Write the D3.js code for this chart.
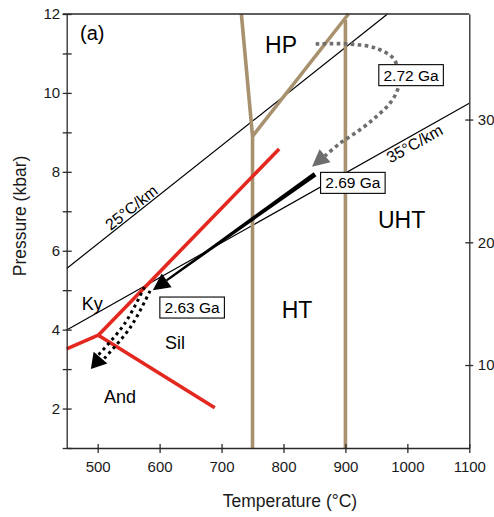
<!DOCTYPE html>
<html>
<head>
<meta charset="utf-8">
<script src="https://cdn.jsdelivr.net/npm/d3@7"></script>
<style>
  html, body { margin: 0; padding: 0; background: #fff; }
  svg { display: block; font-family: "Liberation Sans", Arial, Helvetica, sans-serif; }
</style>
</head>
<body>
<script>
// ---------------- data ----------------
const tempDomain = [450, 1100];
const pressureDomain = [1, 12];
const depthDomain = [3.24, 38.6];          // km at the bottom / top of the pressure axis
const tempTicks = [500, 600, 700, 800, 900, 1000, 1100];
const pressureTicks = [1, 2, 3, 4, 5, 6, 7, 8, 9, 10, 11, 12];
const pressureLabels = [2, 4, 6, 8, 10, 12];
const depthTicks = [10, 20, 30];

// facies boundaries (T °C, P kbar)
const faciesLines = [
  [[732, 12], [750, 8.9], [750, 1]],
  [[750, 8.9], [905, 12]],
  [[900, 11.85], [900, 1]]
];
// Al2SiO5 phase boundaries
const alsLines = [
  [[450, 3.51], [501, 3.86]],
  [[501, 3.86], [793, 8.58]],
  [[501, 3.86], [689, 2.02]]
];
// geotherms
const geothermLabels = ["25°C/km", "35°C/km"];
const geothermLines = [
  [[450, 5.55], [968, 12]],
  [[450, 3.99], [1100, 9.74]]
];
const geothermLabelT = [562, 1005];

// P-T paths
const path272 = [[852, 11.24], [907, 11.24], [950, 11.13], [977, 10.88], [985, 10.58],
                 [985, 10.12], [972, 9.74], [950, 9.40], [923, 9.06], [891, 8.72], [846, 8.13]];
const path269 = [[851, 7.94], [589, 5.0]];
const path263 = [[580, 5.03], [548, 4.10], [489, 3.00]];

// age boxes
const ageLabels = ["2.72 Ga", "2.69 Ga", "2.63 Ga"];
const ageT = [1006, 912, 652.5];
const ageP = [10.45, 7.72, 4.56];

// field labels
const fieldLabels = ["(a)", "HP", "UHT", "HT", "Ky", "Sil", "And"];
const fieldT = [471.6, 770.3, 952.6, 797.1, 474.2, 608.7, 510.2];
const fieldP = [11.33, 11.01, 6.58, 4.29, 4.50, 3.50, 2.15];
const fieldSize = [20, 23, 23, 23, 18, 18, 18];

// ---------------- chart ----------------
const W = 494, H = 517;
const svg = d3.select("body").append("svg").attr("width", W).attr("height", H);

const x = d3.scaleLinear().domain(tempDomain).range([66.7, 469.3]);
const y = d3.scaleLinear().domain(pressureDomain).range([448, 14]);
const yd = d3.scaleLinear().domain(depthDomain).range([448, 14]);

const BROWN = "#a8916f", RED = "#e3281f", GRAY = "#6e6e6e", AX = "#2a2a2a";
const line = d3.line().x(d => x(d[0])).y(d => y(d[1]));

// geotherms
const gGeo = svg.append("g");
geothermLines.forEach((pts, i) => {
  gGeo.append("path").attr("d", line(pts)).attr("fill", "none")
    .attr("stroke", "#000").attr("stroke-width", 1.2);
  const a = pts[0], b = pts[1];
  const ang = Math.atan2(y(b[1]) - y(a[1]), x(b[0]) - x(a[0])) * 180 / Math.PI;
  const T = geothermLabelT[i];
  const P = a[1] + (b[1] - a[1]) * (T - a[0]) / (b[0] - a[0]);
  gGeo.append("text")
    .attr("transform", `translate(${x(T)},${y(P)}) rotate(${ang})`)
    .attr("text-anchor", "middle")
    .attr("y", i === 0 ? -2 : 14)
    .attr("font-size", 16).attr("fill", "#000")
    .text(geothermLabels[i]);
});

// facies (brown)
svg.append("g").selectAll("path").data(faciesLines).join("path")
  .attr("d", line).attr("fill", "none").attr("stroke", BROWN)
  .attr("stroke-width", 3.6).attr("stroke-linejoin", "miter");

// Al2SiO5 (red)
svg.append("g").selectAll("path").data(alsLines).join("path")
  .attr("d", line).attr("fill", "none").attr("stroke", RED)
  .attr("stroke-width", 3.6).attr("stroke-linecap", "butt");

// helpers
function px(d) { return [x(d[0]), y(d[1])]; }
function head(g, tip, prev, L, hw, color) {
  const dx = tip[0] - prev[0], dy = tip[1] - prev[1];
  const len = Math.hypot(dx, dy), ux = dx / len, uy = dy / len;
  const nx = -uy, ny = ux;
  const base = [tip[0] - L * ux, tip[1] - L * uy];
  g.append("path")
    .attr("d", `M${tip[0]},${tip[1]}L${base[0] + nx * hw},${base[1] + ny * hw}L${base[0] - nx * hw},${base[1] - ny * hw}Z`)
    .attr("fill", color);
  return base;
}
const pline = d3.line().curve(d3.curveCatmullRom.alpha(0.5));

// gray dotted arrow (2.72 Ga)
{
  const g = svg.append("g");
  const pts = path272.map(px);
  const tip = pts[pts.length - 1], prev = pts[pts.length - 2];
  const base = head(g, tip, prev, 17, 8.5, GRAY);
  const p = pts.slice(0, -1).concat([base]);
  g.insert("path", ":first-child").attr("d", pline(p)).attr("fill", "none")
    .attr("stroke", GRAY).attr("stroke-width", 3.6).attr("stroke-dasharray", "3.6,3.4");
}

// black solid tapered arrow (2.69 Ga)
{
  const g = svg.append("g");
  const p0 = px(path269[0]), tip = px(path269[1]);
  const base = head(g, tip, p0, 17, 8.5, "#000");
  const dx = tip[0] - p0[0], dy = tip[1] - p0[1];
  const len = Math.hypot(dx, dy), nx = -dy / len, ny = dx / len;
  const w0 = 2.4, w1 = 1.1;
  g.insert("path", ":first-child")
    .attr("d", `M${p0[0] + nx * w0},${p0[1] + ny * w0}L${base[0] + nx * w1},${base[1] + ny * w1}` +
               `L${base[0] - nx * w1},${base[1] - ny * w1}L${p0[0] - nx * w0},${p0[1] - ny * w0}Z`)
    .attr("fill", "#000");
}

// black double-dotted arrow (2.63 Ga)
{
  const g = svg.append("g");
  const pts = path263.map(px);
  const tip = pts[pts.length - 1], prev = pts[pts.length - 2];
  const base = head(g, tip, prev, 15, 9, "#000");
  const p = pts.slice(0, -1).concat([base]);
  const dx = base[0] - p[0][0], dy = base[1] - p[0][1];
  const len = Math.hypot(dx, dy), nx = -dy / len, ny = dx / len;
  [-3.4, 3.4].forEach(o => {
    g.insert("path", ":first-child")
      .attr("d", pline(p.map(q => [q[0] + nx * o, q[1] + ny * o])))
      .attr("fill", "none").attr("stroke", "#000").attr("stroke-width", 3)
      .attr("stroke-dasharray", "3,3.6");
  });
}

// age boxes
ageLabels.forEach((t, i) => {
  const g = svg.append("g").attr("transform", `translate(${x(ageT[i])},${y(ageP[i])})`);
  const rect = g.append("rect").attr("fill", "#fff").attr("stroke", "#000").attr("stroke-width", 1.1);
  const txt = g.append("text").attr("text-anchor", "middle").attr("dy", "0.36em")
    .attr("font-size", 15.5).attr("fill", "#000").text(t);
  const bb = txt.node().getBBox();
  const w = bb.width + 9, h = 21;
  rect.attr("x", -w / 2).attr("y", -h / 2).attr("width", w).attr("height", h);
});

// field labels
svg.append("g").selectAll("text").data(fieldLabels).join("text")
  .attr("x", (d, i) => x(fieldT[i])).attr("y", (d, i) => y(fieldP[i]))
  .attr("font-size", (d, i) => fieldSize[i]).attr("fill", "#000")
  .text(d => d);

// ---------------- axes ----------------
function styleAxis(g) {
  g.select(".domain").attr("stroke", AX).attr("stroke-width", 1.3);
  g.selectAll(".tick line").attr("stroke", AX).attr("stroke-width", 1.3);
  g.selectAll(".tick text").attr("fill", "#1a1a1a").attr("font-size", 15)
    .attr("font-family", "'Liberation Sans', Arial, sans-serif");
}

// top border
svg.append("line").attr("x1", x(tempDomain[0]) - 4).attr("x2", x(tempDomain[1]))
  .attr("y1", y(12)).attr("y2", y(12)).attr("stroke", AX).attr("stroke-width", 1.3);

const gx = svg.append("g").attr("transform", `translate(0,${y(pressureDomain[0])})`)
  .call(d3.axisBottom(x).tickValues(tempTicks).tickSize(5).tickSizeOuter(0).tickFormat(d3.format("d")));
gx.selectAll(".tick line").attr("y1", -4);
gx.selectAll(".tick text").attr("y", 13);
styleAxis(gx);

const gy = svg.append("g").attr("transform", `translate(${x(tempDomain[0])},0)`)
  .call(d3.axisLeft(y).tickValues(pressureTicks).tickSize(4).tickSizeOuter(0)
    .tickFormat(d => pressureLabels.includes(d) ? d : ""));
gy.selectAll(".tick line").attr("x1", 5);
gy.selectAll(".tick text").attr("x", -6.5);
styleAxis(gy);

const gr = svg.append("g").attr("transform", `translate(${x(tempDomain[1])},0)`)
  .call(d3.axisRight(yd).tickValues(depthTicks).tickSize(4).tickSizeOuter(0));
gr.selectAll(".tick line").attr("x1", -4);
gr.selectAll(".tick text").attr("x", 8.5);
styleAxis(gr);

// axis titles
svg.append("text").attr("x", 290).attr("y", 506.5).attr("text-anchor", "middle")
  .attr("font-size", 17.5).attr("fill", "#1a1a1a").text("Temperature (°C)");
svg.append("text").attr("transform", "translate(26,216) rotate(-90)").attr("text-anchor", "middle")
  .attr("font-size", 17.5).attr("fill", "#1a1a1a").text("Pressure (kbar)");
</script>
</body>
</html>
